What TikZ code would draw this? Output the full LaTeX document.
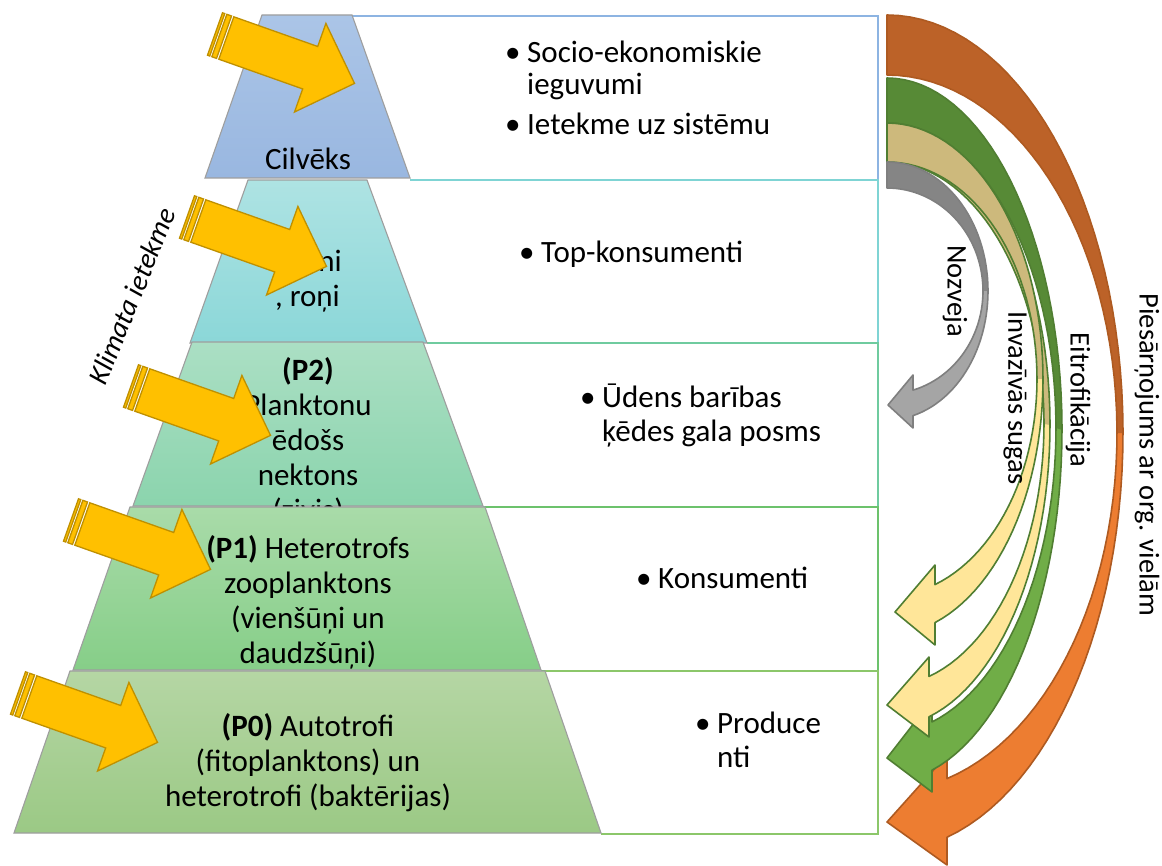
\documentclass[tikz,border=0pt]{standalone}
\usepackage{fontspec}
\setmainfont{Carlito}

\definecolor{cilvA}{HTML}{ABC5E7}\definecolor{cilvB}{HTML}{99B7E0}
\definecolor{topA}{HTML}{AEE3E3}\definecolor{topB}{HTML}{8BD7D8}
\definecolor{ptwoA}{HTML}{ABDFC4}\definecolor{ptwoB}{HTML}{8BD4AD}
\definecolor{poneA}{HTML}{A9DBA9}\definecolor{poneB}{HTML}{86CE88}
\definecolor{pzeroA}{HTML}{B5D6A4}\definecolor{pzeroB}{HTML}{9BC985}
\definecolor{boxA}{HTML}{8DB4E2}\definecolor{boxB}{HTML}{7FD4D4}
\definecolor{boxC}{HTML}{6FCB9F}\definecolor{boxD}{HTML}{6CC26C}
\definecolor{boxE}{HTML}{8CC76A}
\definecolor{gold}{HTML}{FFC000}\definecolor{golddk}{HTML}{BF9000}
\definecolor{orgF}{HTML}{ED7D31}\definecolor{orgB}{HTML}{BC6228}\definecolor{orgL}{HTML}{AE5A21}
\definecolor{grnF}{HTML}{70AD47}\definecolor{grnB}{HTML}{578A36}\definecolor{grnL}{HTML}{507E32}
\definecolor{yelF}{HTML}{FFE699}\definecolor{yelB}{HTML}{CDB97C}
\definecolor{gryF}{HTML}{A5A5A5}\definecolor{gryB}{HTML}{858585}\definecolor{gryL}{HTML}{7F7F7F}

\newcommand{\blt}{\makebox[22pt][l]{•}}
\newcommand{\bsk}{\hspace*{22pt}}

\tikzset{
  tier/.style={draw=black!38, line width=1.1pt},
  boxln/.style={line width=1.4pt},
  txt/.style={font=\fontsize{31}{35}\selectfont, inner sep=0pt},
  blist/.style={font=\fontsize{31}{34}\selectfont, inner sep=0pt, anchor=base west},
  lbl/.style={font=\fontsize{28.5}{32}\selectfont, inner sep=0pt},
  goldarr/.style={fill=gold, draw=golddk, line width=1.3pt},
}

\begin{document}
\begin{tikzpicture}[x=1pt, y=-1pt]
  \path[use as bounding box, fill=white] (0,0) rectangle (1162,866);
  % kastes labaja puse
  \foreach \ya/\yb/\xa/\xb/\bcol in {16/180/352/410/boxA, 180/343/410/427/boxB, 343/507/427/483/boxC,
                                    507/671/485/541/boxD, 671/834/545/601/boxE}
    \draw[boxln, draw=\bcol] (\xa,\ya) -- (878,\ya) -- (878,\yb) -- (\xb,\yb);

  % piramida, no augsas uz leju (teksts zem nakamas pakapes)
  \path[tier, top color=cilvA, bottom color=cilvB] (262,15) -- (352,15) -- (410,178) -- (205,178) -- cycle;
  \node[txt, anchor=base] (cilv) at (308,170) {Cilvēks};

  \path[tier, top color=topA, bottom color=topB] (248,180) -- (367,180) -- (427,343) -- (190,343) -- cycle;
  \node[txt, anchor=base east] (topa) at (342,272) {tni};
  \node[txt, anchor=base east] (topb) at (340,307) {, roņi};

  \path[tier, top color=ptwoA, bottom color=ptwoB] (192,342) -- (423,342) -- (483,506) -- (133,506) -- cycle;
  \node[txt, align=center] (ptwo) at (308,441) {\textbf{(P2)}\\Planktonu\\ēdošs\\nektons\\(zivis)};

  \path[tier, top color=poneA, bottom color=poneB] (130,507) -- (485,507) -- (541,670) -- (73,670) -- cycle;
  \node[txt, align=center] (pone) at (308,602) {\textbf{(P1)} Heterotrofs\\zooplanktons\\(vienšūņi un\\daudzšūņi)};

  \path[tier, top color=pzeroA, bottom color=pzeroB] (70,671) -- (545,671) -- (601,833) -- (14,833) -- cycle;
  \node[txt, align=center] (pzero) at (308,763) {\textbf{(P0)} Autotrofi\\(fitoplanktons) un\\heterotrofi (baktērijas)};

  % klimata bultas
  \foreach \ax/\ay in {215/34, 187/217, 131/386, 71/520, 18/693}
  {
    \begin{scope}[shift={(\ax,\ay)}, rotate=-19.5]
      \path[goldarr] (0,-22.5) rectangle (2.4,22.5);
      \path[goldarr] (4.6,-22.5) rectangle (9.6,22.5);
      \path[goldarr] (12,-22.5) -- (101,-22.5) -- (101,-47) -- (148,0) -- (101,47) -- (101,22.5) -- (12,22.5) -- cycle;
    \end{scope}
  }
  \node[lbl, font=\fontsize{28.5}{32}\selectfont\itshape, rotate=68] (klim) at (132,296) {Klimata ietekme};

  % teksti labaja puse
  \node[blist] (socio) at (505,63) {\begin{tabular}[t]{@{}l@{}}\blt Socio-ekonomiskie\\[-2pt]\bsk ieguvumi\\[6pt]\blt Ietekme uz sistēmu\end{tabular}};
  \node[blist] (topk) at (519,263) {\blt Top-konsumenti};
  \node[blist] (udens) at (580,407) {\begin{tabular}[t]{@{}l@{}}\blt Ūdens barības\\\bsk ķēdes gala posms\end{tabular}};
  \node[blist] (kons) at (636,588) {\blt Konsumenti};
  \node[blist] (prod) at (695,733) {\begin{tabular}[t]{@{}l@{}}\blt Produce\\\bsk nti\end{tabular}};

  % izliektas bultas (ara elipse / ieksa elipse, galva, krasas)
  \foreach \oy/\orx/\ory/\iy/\irx/\iry/\jx/\btop/\bbot/\tipx/\tipy/\colf/\colb/\coll in {
    433/236/418/433/230/358/947/755/865/887/822/orgF/orgB/orgL,
    430/175/352/428/169/305/932/700/792/887/758/grnF/grnB/grnL,
    425/163/302/424/157/262/929/657/737/887/705/yelF/yelB/grnL,
    379/156/256/379/150/217/935/565/645/895/612/yelF/yelB/grnL,
    291/101/129/291/96/103/913/375/428/888/405/gryF/gryB/gryL}
  {
    \pgfmathsetmacro{\endo}{180-asin((\jx-887)/\orx)}
    \pgfmathsetmacro{\endi}{180-asin((\jx-887)/\irx)}
    \path[fill=\colf] (887,{\oy-\ory})
      -- plot[domain=0:\endo, samples=60] ({887+\orx*sin(\x)},{\oy-\ory*cos(\x)})
      -- (\jx,\bbot) -- (\tipx,\tipy) -- (\jx,\btop)
      -- plot[domain=\endi:0, samples=60] ({887+\irx*sin(\x)},{\iy-\iry*cos(\x)}) -- cycle;
    \path[fill=\colb] (887,{\oy-\ory})
      -- plot[domain=0:90, samples=30] ({887+\orx*sin(\x)},{\oy-\ory*cos(\x)})
      -- plot[domain=90:0, samples=30] ({887+\irx*sin(\x)},{\iy-\iry*cos(\x)}) -- cycle;
    \draw[draw=\coll, line width=1.6pt, line join=round] (887,{\oy-\ory})
      -- plot[domain=0:\endo, samples=60] ({887+\orx*sin(\x)},{\oy-\ory*cos(\x)})
      -- (\jx,\bbot) -- (\tipx,\tipy) -- (\jx,\btop)
      -- plot[domain=\endi:0, samples=60] ({887+\irx*sin(\x)},{\iy-\iry*cos(\x)}) -- cycle;
  }
  \node[lbl, rotate=-90] (nozv) at (955,291) {Nozveja};
  \node[lbl, rotate=-90] (inva) at (1015,398) {Invazīvās sugas};
  \node[lbl, rotate=-90] (eitr) at (1078,400) {Eitrofikācija};
  \node[lbl, rotate=-90] (pies) at (1147,455) {Piesārņojums ar org. vielām};
\end{tikzpicture}
\end{document}
